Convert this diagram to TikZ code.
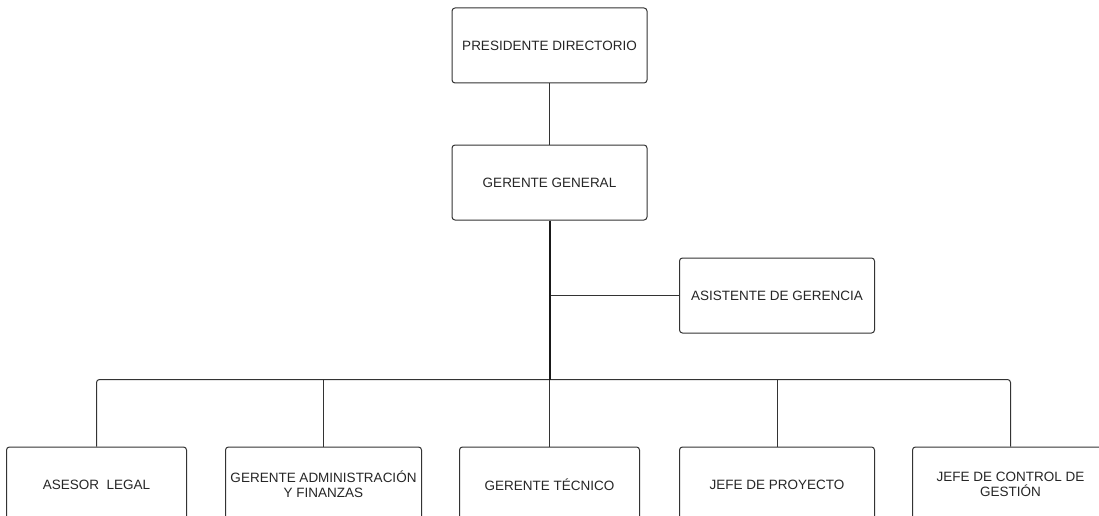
\documentclass[tikz,border=0pt]{standalone}
\usepackage{fontspec}
\setmainfont{Liberation Sans}
\usetikzlibrary{positioning, calc}
\colorlet{drawColor}{black!80}
\colorlet{textColor}{black!85}
\tikzstyle{rect}=[rectangle, rounded corners=3pt, align=center, draw=drawColor,
  line width=1pt, fill=white, minimum width=195pt, minimum height=75pt,
  text=textColor, inner sep=2pt, font=\fontsize{13.5}{15}\selectfont]
\tikzstyle{link}=[draw=drawColor, line width=1pt]
\tikzstyle{trunk}=[draw=black!90, line width=2pt]

\begin{document}
\begin{tikzpicture}[x=1pt, y=1pt, node distance=61pt]
      \useasboundingbox (0,0) rectangle (1099,-516);
      \clip (0,0) rectangle (1099,-516);
      \node (president) [rect] at (549.5,-45.5) {PRESIDENTE DIRECTORIO};
      \node (manager) [rect, below=of president] {GERENTE GENERAL};
      \draw [link] (president) -- (manager);
      % bottom row
      \node (technical) [rect, minimum width=180pt, below=226pt of manager] {GERENTE TÉCNICO};
      \node (finance) [rect, minimum width=196pt, left=37pt of technical] {GERENTE ADMINISTRACIÓN\\Y FINANZAS};
      \node (legal) [rect, minimum width=180pt, left=38pt of finance] {ASESOR~~LEGAL};
      \node (project) [rect, right=39pt of technical] {JEFE DE PROYECTO};
      \node (control) [rect, minimum width=196pt, right=37pt of project] {JEFE DE CONTROL DE\\GESTIÓN};
      \node (assistant) [rect, above=113pt of project] {ASISTENTE DE GERENCIA};
      \coordinate (bus) at ($ (technical.north) + (0,67) $);
      \draw [link] (manager.south |- assistant) -- (assistant.west);
      \draw [link, rounded corners=3pt] (legal.north) -- (legal.north |- bus) -- (control.north |- bus) -- (control.north);
      \draw [link] (finance.north |- bus) -- (finance.north);
      \draw [link] (project.north |- bus) -- (project.north);
      \draw [link] (bus) -- (technical.north);
      \draw [trunk] (manager.south) -- (bus);
    \end{tikzpicture}
\end{document}
